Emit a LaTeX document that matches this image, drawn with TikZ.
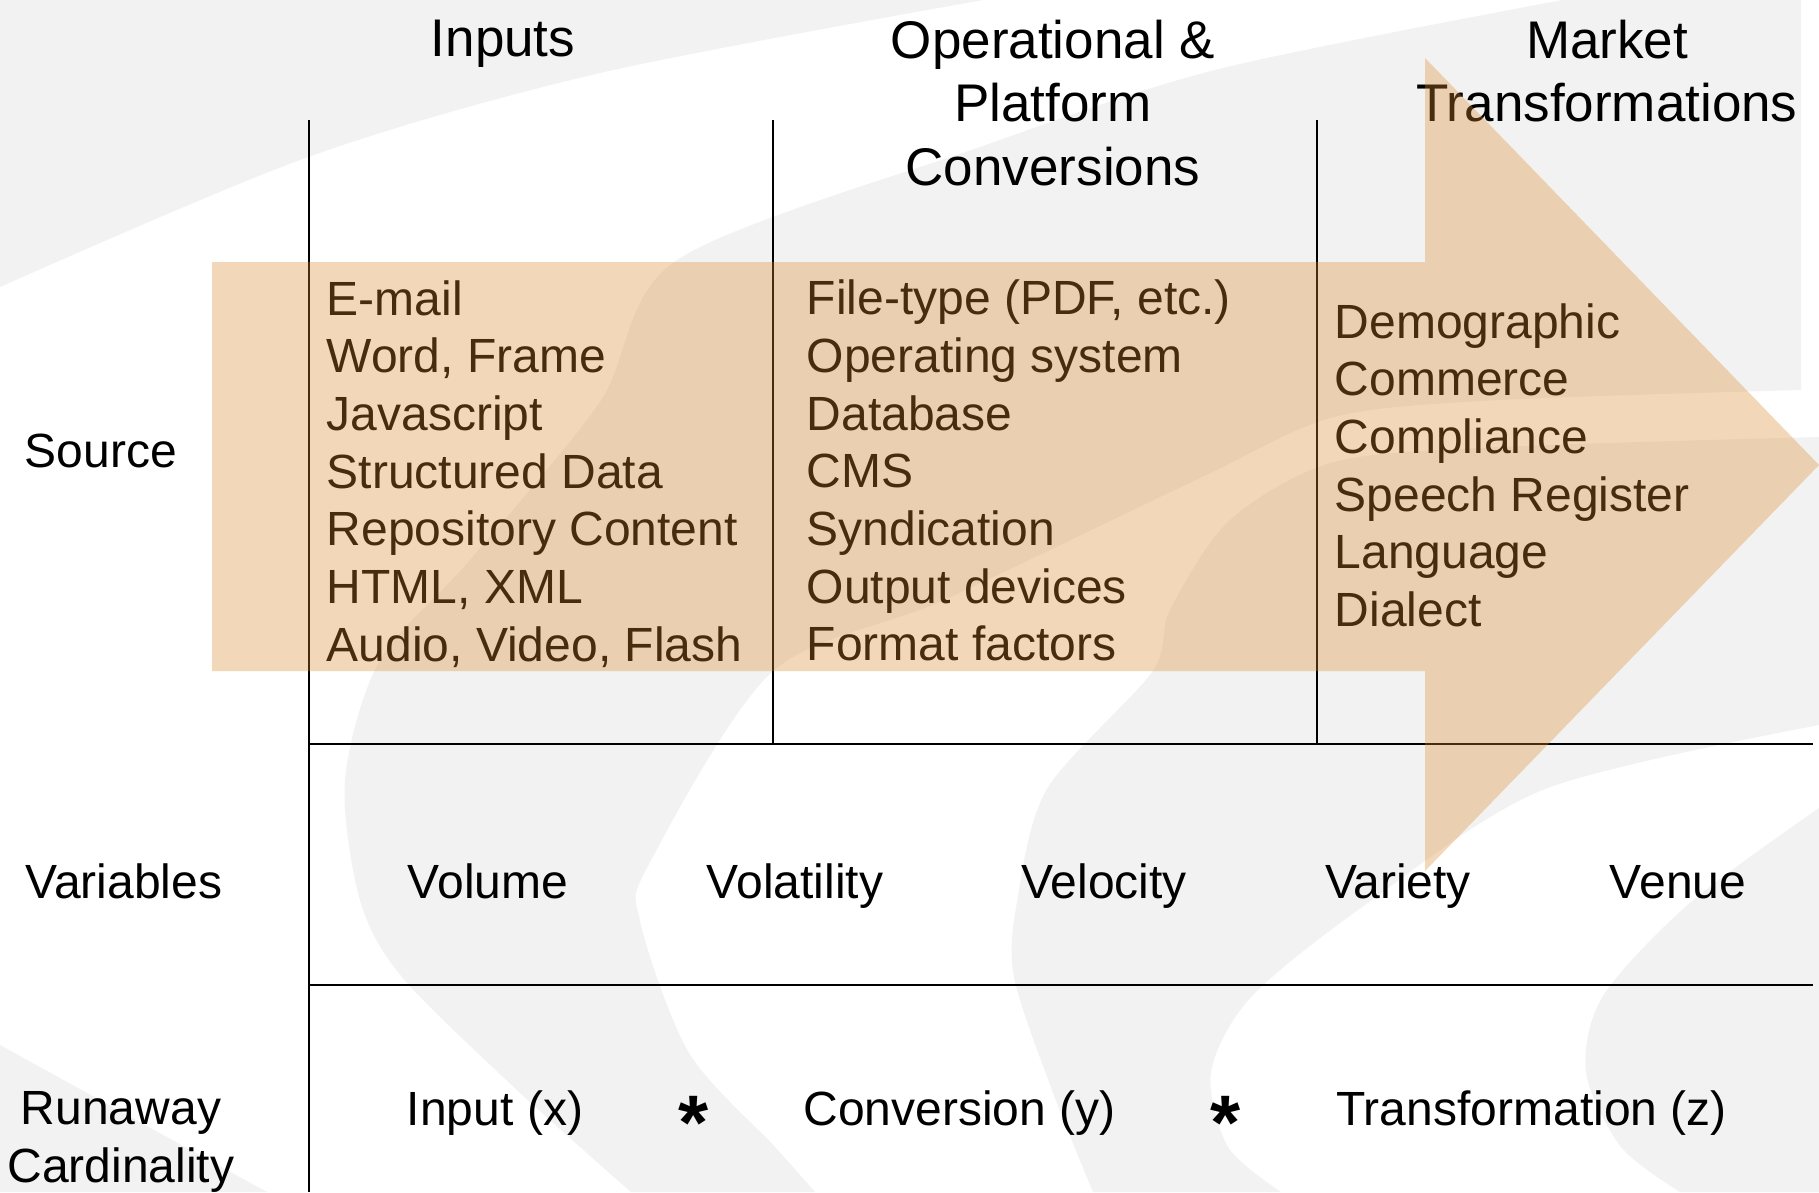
\documentclass[tikz,border=0pt]{standalone}
\usepackage{fontspec}
\setmainfont{Liberation Sans}
\usepackage{xcolor}
\usepackage{tikz}
\definecolor{swirl}{RGB}{242,242,242}
\definecolor{arrowfill}{RGB}{218,139,42}

\begin{document}
\begin{tikzpicture}[
	title/.style={align=center,inner sep=0pt,anchor=north,font=\fontsize{15.08}{18.15}\selectfont},
	item/.style={align=left,inner sep=0pt,anchor=north west,font=\fontsize{13.66}{16.42}\selectfont},
	cell/.style={inner sep=0pt,anchor=base,font=\fontsize{13.66}{16.42}\selectfont},
	timesmark/.style={inner sep=0pt,anchor=base,font=\fontsize{22}{26}\selectfont\bfseries},
	grid/.style={line width=0.6pt,black}]
	\useasboundingbox (0,0) rectangle (18.19,-11.92);
	\fill[white] (0,0) rectangle (18.19,-11.92);
	\fill[swirl] (0,0) -- plot[smooth] coordinates {(0,-2.87) (3.08,-1.57) (6.0,-0.73) (9.83,0)} -- cycle;
	\fill[swirl] plot[smooth] coordinates {(15.63,0) (12.19,-0.69) (9.83,-1.46) (6.77,-2.6) (6.0,-4.02) (4.7,-5.6) (3.8,-6.6) (3.45,-7.8) (3.6,-9.0) (4.02,-9.77) (5.17,-10.9) (6.31,-11.92)}
		-- plot[smooth] coordinates {(8.15,-11.92) (7.75,-11.47) (6.89,-10.53) (6.40,-9.21) (6.49,-8.64) (7.72,-6.72) (9.44,-6.0) (12.0,-4.78) (13.34,-4.17) (15.0,-4.0) (18.01,-3.9)}
		-- (18.01,0) -- cycle;
	\fill[swirl] plot[smooth] coordinates {(18.19,-4.37) (15.0,-4.47) (13.34,-4.62) (12.3,-5.2) (11.7,-6.1) (11.52,-6.72) (10.47,-7.89) (10.17,-9.02) (10.14,-9.77) (10.52,-10.9) (10.93,-11.92)}
		-- plot[smooth] coordinates {(12.81,-11.92) (12.28,-11.47) (12.11,-10.72) (12.52,-9.96) (13.69,-9.02) (15.45,-7.89) (18.19,-7.25)} -- cycle;
	\fill[swirl] plot[smooth] coordinates {(18.19,-8.08) (16.91,-9.02) (16.03,-9.96) (15.86,-10.72) (16.21,-11.47) (16.80,-11.92)} -- (18.19,-11.92) -- cycle;
	\fill[swirl] (0,-10.45) .. controls (1.0,-11.0) and (1.9,-11.5) .. (2.67,-11.92) -- (0,-11.92) -- cycle;

	\draw[grid] (3.086,-1.195) -- (3.086,-11.92);
	\draw[grid] (7.726,-1.195) -- (7.726,-7.436);
	\draw[grid] (13.167,-1.195) -- (13.167,-7.436);
	\draw[grid] (3.086,-7.436) -- (18.13,-7.436);
	\draw[grid] (3.086,-9.85) -- (18.13,-9.85);

	\node[title] (inputs) at (5.03,-0.19) {Inputs};
	\node[title] (convs) at (10.53,-0.19) {Operational \&\\Platform\\Conversions};
	\node[title] (market) at (16.07,-0.19) {Market\\Transformations};

	\node[item] (inlist) at (3.26,-2.796) {E-mail\\Word, Frame\\Javascript\\Structured Data\\Repository Content\\HTML, XML\\Audio, Video, Flash};
	\node[item] (convlist) at (8.06,-2.791) {File-type (PDF, etc.)\\Operating system\\Database\\CMS\\Syndication\\Output devices\\Format factors};
	\node[item] (marketlist) at (13.34,-3.026) {Demographic\\Commerce\\Compliance\\Speech Register\\Language\\Dialect};

	\node[cell,anchor=base west] (source) at (0.24,-4.67) {Source};
	\node[cell,anchor=base west] (variables) at (0.25,-8.98) {Variables};
	\node[cell,align=center,anchor=north] (runaway) at (1.21,-10.906) {Runaway\\Cardinality};

	\node[cell] (volume) at (4.88,-8.98) {Volume};
	\node[cell] (volatility) at (7.95,-8.98) {Volatility};
	\node[cell] (velocity) at (11.04,-8.98) {Velocity};
	\node[cell] (variety) at (13.98,-8.98) {Variety};
	\node[cell] (venue) at (16.78,-8.98) {Venue};

	\node[cell] (inx) at (4.95,-11.25) {Input (x)};
	\node[timesmark] (times1) at (6.94,-11.49) {*};
	\node[cell] (cony) at (9.595,-11.25) {Conversion (y)};
	\node[timesmark] (times2) at (12.26,-11.49) {*};
	\node[cell] (trz) at (15.316,-11.25) {Transformation (z)};

	\fill[arrowfill,fill opacity=0.33] (2.12,-2.62) -- (14.25,-2.62) -- (14.25,-0.58) -- (18.19,-4.65) -- (14.25,-8.71) -- (14.25,-6.71) -- (2.12,-6.71) -- cycle;
\end{tikzpicture}
\end{document}
